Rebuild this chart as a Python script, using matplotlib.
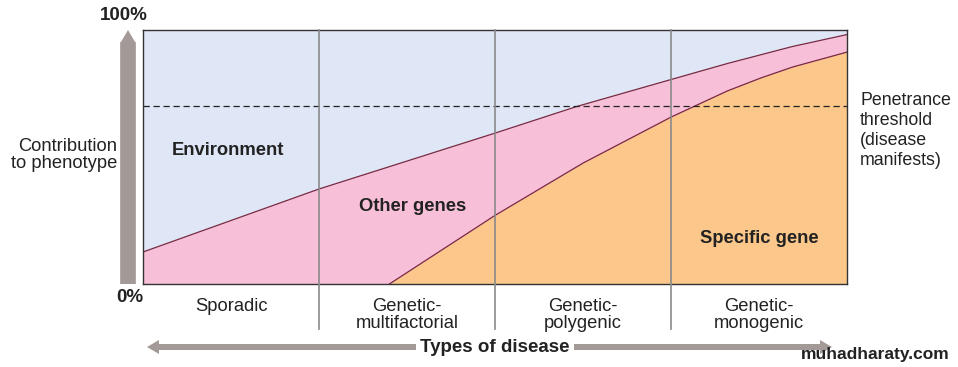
import numpy as np
import matplotlib
matplotlib.use("Agg")
import matplotlib.pyplot as plt
from matplotlib.patches import FancyArrow

plt.rcParams['font.family'] = ['Liberation Sans', 'DejaVu Sans']

# Category labels along the x axis (one per column)
categories = ['Sporadic', 'Genetic-\nmultifactorial', 'Genetic-\npolygenic', 'Genetic-\nmonogenic']

# Boundary between "Environment" and "Other genes" (% contribution)
upper_x = [0.0, 1.0, 2.0, 2.47, 3.0, 3.32, 3.69, 4.0]
upper_y = [12.6, 37.4, 59.4, 70.0, 80.5, 86.8, 93.5, 98.2]

# Boundary between "Other genes" and "Specific gene" (% contribution)
lower_x = [1.40, 2.0, 2.5, 3.0, 3.32, 3.51, 3.69, 4.0]
lower_y = [0.0, 27.0, 47.6, 65.7, 76.0, 81.1, 85.4, 91.3]

threshold = 70.0

c_env = '#dfe6f5'
c_other = '#f7c0d8'
c_gene = '#fbc78a'
c_line = '#7a2840'
c_arrow = '#a39997'
c_text = '#222222'

fig = plt.figure(figsize=(9.58, 3.67), dpi=100)
ax = fig.add_axes([143 / 958, 83 / 367, 704 / 958, 254 / 367])
ax.set_facecolor(c_env)
ax.set_xlim(0, 4)
ax.set_ylim(0, 100)

ax.fill_between(upper_x, 0, upper_y, color=c_other, lw=0)
ax.fill_between(lower_x, 0, lower_y, color=c_gene, lw=0)
ax.plot(upper_x, upper_y, color=c_line, lw=0.9)
ax.plot(lower_x, lower_y, color=c_line, lw=0.9)

# penetrance threshold
ax.axhline(threshold, color=c_text, lw=0.9, ls=(0, (5, 3)))

# column dividers, running below the plot
for xd in [1, 2, 3]:
    ax.plot([xd, xd], [-17.7, 100], color='#8a8a8a', lw=1.2, clip_on=False, zorder=3)

for s in ax.spines.values():
    s.set_color('#333333')
    s.set_linewidth(1.0)
ax.set_xticks([])
ax.set_yticks([])

# category labels under each column
for i, lab in enumerate(categories):
    ax.text(i + 0.5, -5.4, lab, ha='center', va='top', fontsize=13.2,
            color=c_text, linespacing=1.05)

# region labels
ax.text(0.48, 52.5, 'Environment', fontsize=13.2, fontweight='bold', color=c_text,
        ha='center', va='center')
ax.text(1.53, 30.5, 'Other genes', fontsize=13.2, fontweight='bold', color=c_text,
        ha='center', va='center')
ax.text(3.5, 17.8, 'Specific gene', fontsize=13.2, fontweight='bold', color=c_text,
        ha='center', va='center')

# threshold note on the right
fig.text(860 / 958, 1 - 92 / 367, 'Penetrance\nthreshold\n(disease\nmanifests)',
         fontsize=12.8, color=c_text, ha='left', va='top', linespacing=1.24)

# y axis words and arrow
fig.text(124 / 958, 1 - 16 / 367, '100%', fontsize=13.5, fontweight='bold',
         color=c_text, ha='center', va='center')
fig.text(130 / 958, 1 - 298 / 367, '0%', fontsize=13.5, fontweight='bold',
         color=c_text, ha='center', va='center')
fig.text(117 / 958, 1 - 155 / 367, 'Contribution\nto phenotype', fontsize=13.2,
         color=c_text, ha='right', va='center', linespacing=1.05)
fig.patches.append(FancyArrow(
    128 / 958, 1 - 284 / 367, 0, (284 - 42) / 367, width=6 / 367,
    head_width=14 / 958, head_length=12 / 367,
    color=c_arrow, transform=fig.transFigure, lw=0))

# x axis arrow
fig.patches.append(FancyArrow(
    158 / 958, 1 - 347 / 367, (820 - 158) / 958, 0, width=6 / 367,
    head_width=14 / 367, head_length=12 / 958, color=c_arrow,
    transform=fig.transFigure, lw=0))
fig.patches.append(FancyArrow(
    160 / 958, 1 - 347 / 367, -1 / 958, 0, width=6 / 367,
    head_width=14 / 367, head_length=12 / 958, color=c_arrow,
    transform=fig.transFigure, lw=0))
fig.text(495 / 958, 1 - 347 / 367, 'Types of disease', fontsize=13.5, fontweight='bold',
         color=c_text, ha='center', va='center',
         bbox=dict(facecolor='white', edgecolor='none', pad=3))

fig.text(950 / 958, 1 - 354 / 367, 'muhadharaty.com', fontsize=12.5, fontweight='bold',
         color=c_text, ha='right', va='center')

fig.savefig('out.png', dpi=100)
